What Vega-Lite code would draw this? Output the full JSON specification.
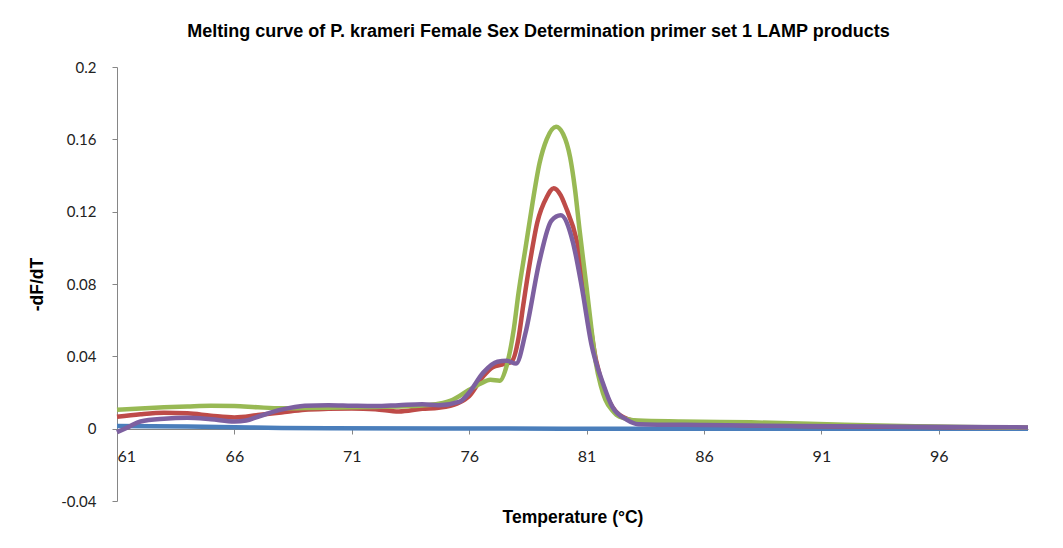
{
  "$schema": "https://vega.github.io/schema/vega-lite/v6.json",
  "autosize": "none",
  "width": 911,
  "height": 434,
  "padding": {"left": 117, "top": 67, "right": 35, "bottom": 47},
  "background": "white",
  "title": {
    "text": "Melting curve of P. krameri Female Sex Determination primer set 1 LAMP products",
    "font": "Liberation Sans",
    "fontSize": 18,
    "fontWeight": "bold",
    "color": "#000000",
    "anchor": "middle",
    "frame": "group",
    "dx": -34,
    "offset": 19
  },
  "config": {"view": {"stroke": null}},
  "data": {
    "values": [
      {"series": "A", "t": 61, "v": 0.0015},
      {"series": "A", "t": 64, "v": 0.0012},
      {"series": "A", "t": 66, "v": 0.0008},
      {"series": "A", "t": 68, "v": 0.0004},
      {"series": "A", "t": 70, "v": 0.0002},
      {"series": "A", "t": 75, "v": 0.0001},
      {"series": "A", "t": 80, "v": 0},
      {"series": "A", "t": 99.8, "v": 0},

      {"series": "B", "t": 61, "v": 0.0066},
      {"series": "B", "t": 62, "v": 0.008},
      {"series": "B", "t": 63, "v": 0.0088},
      {"series": "B", "t": 64, "v": 0.0085},
      {"series": "B", "t": 65, "v": 0.0072},
      {"series": "B", "t": 66, "v": 0.0062},
      {"series": "B", "t": 67, "v": 0.0075},
      {"series": "B", "t": 68, "v": 0.009},
      {"series": "B", "t": 69, "v": 0.0105},
      {"series": "B", "t": 70, "v": 0.011},
      {"series": "B", "t": 71, "v": 0.0112},
      {"series": "B", "t": 72, "v": 0.0108},
      {"series": "B", "t": 73, "v": 0.0095},
      {"series": "B", "t": 74, "v": 0.011},
      {"series": "B", "t": 74.7, "v": 0.0116},
      {"series": "B", "t": 75.5, "v": 0.014},
      {"series": "B", "t": 76, "v": 0.018},
      {"series": "B", "t": 76.6, "v": 0.029},
      {"series": "B", "t": 77, "v": 0.034},
      {"series": "B", "t": 77.4, "v": 0.0355},
      {"series": "B", "t": 77.8, "v": 0.037},
      {"series": "B", "t": 78.1, "v": 0.05},
      {"series": "B", "t": 78.3, "v": 0.068},
      {"series": "B", "t": 78.6, "v": 0.093},
      {"series": "B", "t": 78.9, "v": 0.114},
      {"series": "B", "t": 79.3, "v": 0.128},
      {"series": "B", "t": 79.6, "v": 0.133},
      {"series": "B", "t": 79.9, "v": 0.129},
      {"series": "B", "t": 80.1, "v": 0.123},
      {"series": "B", "t": 80.6, "v": 0.103},
      {"series": "B", "t": 81.0, "v": 0.071},
      {"series": "B", "t": 81.4, "v": 0.038},
      {"series": "B", "t": 81.8, "v": 0.020},
      {"series": "B", "t": 82.1, "v": 0.012},
      {"series": "B", "t": 82.4, "v": 0.0077},
      {"series": "B", "t": 83.2, "v": 0.004},
      {"series": "B", "t": 85, "v": 0.003},
      {"series": "B", "t": 90, "v": 0.0015},
      {"series": "B", "t": 99.8, "v": 0.0005},

      {"series": "C", "t": 61, "v": 0.0105},
      {"series": "C", "t": 62, "v": 0.0112},
      {"series": "C", "t": 63, "v": 0.0118},
      {"series": "C", "t": 64, "v": 0.0123},
      {"series": "C", "t": 65, "v": 0.0127},
      {"series": "C", "t": 66, "v": 0.0125},
      {"series": "C", "t": 67, "v": 0.0118},
      {"series": "C", "t": 68, "v": 0.0113},
      {"series": "C", "t": 69, "v": 0.0114},
      {"series": "C", "t": 70, "v": 0.0116},
      {"series": "C", "t": 71, "v": 0.0118},
      {"series": "C", "t": 72, "v": 0.012},
      {"series": "C", "t": 73, "v": 0.0123},
      {"series": "C", "t": 74, "v": 0.0128},
      {"series": "C", "t": 74.7, "v": 0.0138},
      {"series": "C", "t": 75.3, "v": 0.016},
      {"series": "C", "t": 76, "v": 0.0215},
      {"series": "C", "t": 76.5, "v": 0.025},
      {"series": "C", "t": 76.9, "v": 0.027},
      {"series": "C", "t": 77.3, "v": 0.0265},
      {"series": "C", "t": 77.6, "v": 0.035},
      {"series": "C", "t": 77.9, "v": 0.055},
      {"series": "C", "t": 78.1, "v": 0.075},
      {"series": "C", "t": 78.4, "v": 0.100},
      {"series": "C", "t": 78.7, "v": 0.125},
      {"series": "C", "t": 79.0, "v": 0.147},
      {"series": "C", "t": 79.3, "v": 0.160},
      {"series": "C", "t": 79.7, "v": 0.167},
      {"series": "C", "t": 80.0, "v": 0.163},
      {"series": "C", "t": 80.3, "v": 0.150},
      {"series": "C", "t": 80.5, "v": 0.133},
      {"series": "C", "t": 80.7, "v": 0.110},
      {"series": "C", "t": 81.0, "v": 0.078},
      {"series": "C", "t": 81.2, "v": 0.056},
      {"series": "C", "t": 81.4, "v": 0.036},
      {"series": "C", "t": 81.6, "v": 0.024},
      {"series": "C", "t": 81.8, "v": 0.016},
      {"series": "C", "t": 82.1, "v": 0.010},
      {"series": "C", "t": 82.4, "v": 0.0066},
      {"series": "C", "t": 83.2, "v": 0.0045},
      {"series": "C", "t": 85, "v": 0.004},
      {"series": "C", "t": 88, "v": 0.0035},
      {"series": "C", "t": 92, "v": 0.0022},
      {"series": "C", "t": 95, "v": 0.0013},
      {"series": "C", "t": 99.8, "v": 0.0005},

      {"series": "D", "t": 61, "v": -0.002},
      {"series": "D", "t": 61.5, "v": 0.001},
      {"series": "D", "t": 62, "v": 0.004},
      {"series": "D", "t": 63, "v": 0.0055},
      {"series": "D", "t": 64, "v": 0.006},
      {"series": "D", "t": 65, "v": 0.0052},
      {"series": "D", "t": 66, "v": 0.004},
      {"series": "D", "t": 66.5, "v": 0.0045},
      {"series": "D", "t": 67, "v": 0.0066},
      {"series": "D", "t": 68, "v": 0.0105},
      {"series": "D", "t": 69, "v": 0.0127},
      {"series": "D", "t": 70, "v": 0.013},
      {"series": "D", "t": 71, "v": 0.0127},
      {"series": "D", "t": 72, "v": 0.0125},
      {"series": "D", "t": 73, "v": 0.013},
      {"series": "D", "t": 74, "v": 0.0135},
      {"series": "D", "t": 74.7, "v": 0.013},
      {"series": "D", "t": 75.6, "v": 0.015},
      {"series": "D", "t": 76, "v": 0.020},
      {"series": "D", "t": 76.6, "v": 0.031},
      {"series": "D", "t": 77.2, "v": 0.037},
      {"series": "D", "t": 77.6, "v": 0.0375},
      {"series": "D", "t": 78, "v": 0.036},
      {"series": "D", "t": 78.4, "v": 0.053},
      {"series": "D", "t": 79, "v": 0.093},
      {"series": "D", "t": 79.5, "v": 0.115},
      {"series": "D", "t": 79.9, "v": 0.118},
      {"series": "D", "t": 80.4, "v": 0.104},
      {"series": "D", "t": 80.8, "v": 0.078},
      {"series": "D", "t": 81.2, "v": 0.047},
      {"series": "D", "t": 81.7, "v": 0.025},
      {"series": "D", "t": 82.1, "v": 0.012},
      {"series": "D", "t": 82.7, "v": 0.005},
      {"series": "D", "t": 83.2, "v": 0.0025},
      {"series": "D", "t": 86, "v": 0.002},
      {"series": "D", "t": 90, "v": 0.0015},
      {"series": "D", "t": 95, "v": 0.001},
      {"series": "D", "t": 99.8, "v": 0.0007}
    ]
  },
  "mark": {"type": "line", "strokeWidth": 4.5, "interpolate": "monotone", "clip": false},
  "encoding": {
    "x": {
      "field": "t",
      "type": "quantitative",
      "scale": {"domain": [61, 99.8], "nice": false, "zero": false},
      "axis": {
        "title": "Temperature (°C)",
        "values": [61, 66, 71, 76, 81, 86, 91, 96],
        "offset": -72,
        "grid": false,
        "domainColor": "#868686",
        "tickColor": "#868686",
        "tickSize": 5,
        "labelFont": "Lato",
        "labelFontSize": 16,
        "labelColor": "#222222",
        "labelPadding": 14,
        "titleFont": "Liberation Sans",
        "titleFontSize": 17.5,
        "titleFontWeight": "bold",
        "titleColor": "#000000",
        "titlePadding": 44
      }
    },
    "y": {
      "field": "v",
      "type": "quantitative",
      "scale": {"domain": [-0.04, 0.2], "nice": false, "zero": false},
      "axis": {
        "title": "-dF/dT",
        "values": [-0.04, 0, 0.04, 0.08, 0.12, 0.16, 0.2],
        "labelExpr": "datum.value == 0 ? '0' : '' + round(datum.value * 100) / 100",
        "grid": false,
        "domainColor": "#868686",
        "tickColor": "#868686",
        "tickSize": 5,
        "labelFont": "Lato",
        "labelFontSize": 15,
        "labelColor": "#222222",
        "labelPadding": 16,
        "titleFont": "Liberation Sans",
        "titleFontSize": 17.5,
        "titleFontWeight": "bold",
        "titleColor": "#000000",
        "titlePadding": 14
      }
    },
    "color": {
      "field": "series",
      "type": "nominal",
      "scale": {"domain": ["A", "B", "C", "D"], "range": ["#4a7ebb", "#be4b48", "#98b954", "#7d60a0"]},
      "legend": null
    }
  }
}
